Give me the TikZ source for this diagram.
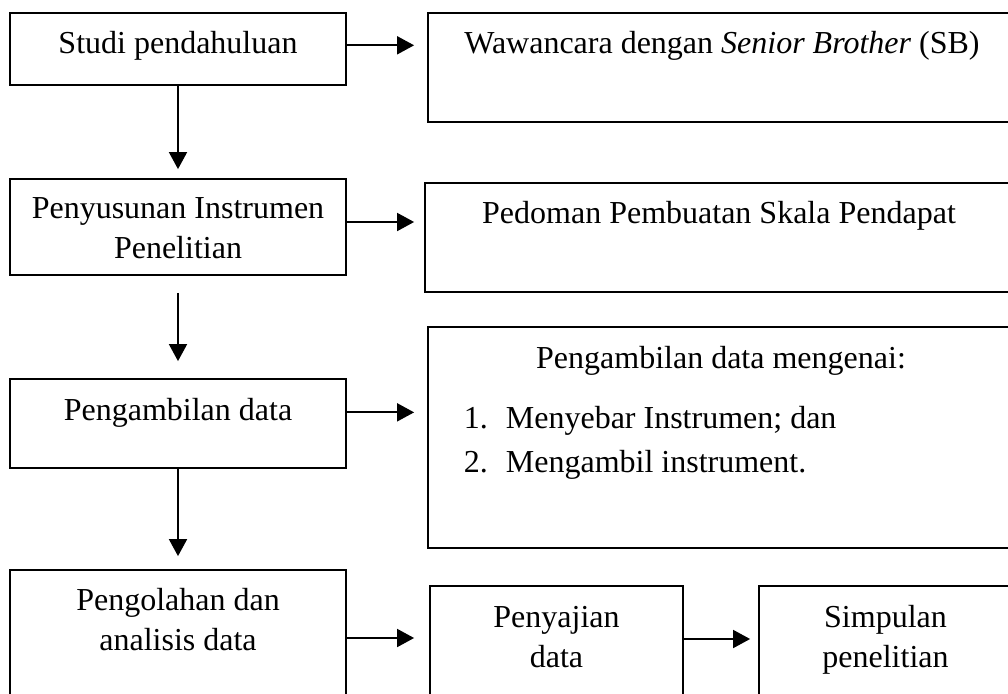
\documentclass[tikz,border=0pt]{standalone}
\usepackage{fontspec}
\setmainfont{Liberation Serif}
\usetikzlibrary{arrows.meta,positioning}

\tikzset{
  stage/.style={draw, line width=1.8pt, inner sep=0pt},
  txt/.style={font=\fontsize{32}{40}\selectfont, align=center, inner sep=0pt, anchor=base},
  >={Triangle[length=17pt,width=18pt]},
}

\begin{document}
\begin{tikzpicture}[x=1pt,y=-1pt,line width=1.8pt]
        \useasboundingbox (0,0) rectangle (1008,693);
        \clip (0,0) rectangle (1008,693);
        \path
        % left
        (178,49) node[stage, minimum width=336pt, minimum height=72pt](studi) {}
        (178,227) node[stage, minimum width=336pt, minimum height=96pt](penyusunan) {}
        (178,423.5) node[stage, minimum width=336pt, minimum height=89pt](pengambilan) {}
        (178,650) node[stage, minimum width=336pt, minimum height=160pt](pengolahan) {}

        (178,53) node[txt](studiTxt) {Studi pendahuluan}
        (178,258) node[txt](penyusunanTxt) {Penyusunan Instrumen\\Penelitian}
        (178,420) node[txt](pengambilanTxt) {Pengambilan data}
        (178,650) node[txt](pengolahanTxt) {Pengolahan dan\\analisis data}

        % right
        (720,67.5) node[stage, minimum width=584pt, minimum height=109pt](wawancara) {}
        (718.5,237.5) node[stage, minimum width=587pt, minimum height=109pt](pedoman) {}
        (720,437.5) node[stage, minimum width=584pt, minimum height=221pt](mengenai) {}

        (722,53) node[txt](wawancaraTxt) {Wawancara dengan \textit{Senior Brother} (SB)}
        (719,223) node[txt](pedomanTxt) {Pedoman Pembuatan Skala Pendapat}
        (721,368) node[txt](mengenaiTxt) {Pengambilan data mengenai:}
        (463,472) node[txt, anchor=base west, align=left](daftarTxt)
          {\makebox[42pt][l]{1.}Menyebar Instrumen; dan\\[4pt]\makebox[42pt][l]{2.}Mengambil instrument.}

        % bottom
        (556.5,658) node[stage, minimum width=253pt, minimum height=144pt](penyajian) {}
        (885.5,658) node[stage, minimum width=253pt, minimum height=144pt](simpulan) {}

        (556.5,667) node[txt](penyajianTxt) {Penyajian\\data}
        (885.5,667) node[txt](simpulanTxt) {Simpulan\\penelitian}
        ;

        \draw[->, shorten >=9pt] (studi) -- (penyusunan);
        \draw[->, shorten <=17pt, shorten >=17pt] (penyusunan) -- (pengambilan);
        \draw[->, shorten >=13pt] (pengambilan) -- (pengolahan);

        \draw[->, shorten >=13pt] (studi.east |- studiTxt) -- (wawancara.west |- studiTxt);
        \draw[->, shorten >=10pt] ([yshift=5pt]penyusunan.east) -- ([yshift=5pt]penyusunan.east -| pedoman.west);
        \draw[->, shorten >=13pt] (pengambilan.east |- pengambilanTxt) -- (mengenai.west |- pengambilanTxt);
        \draw[->, shorten >=15pt] ([yshift=12pt]pengolahan.east) -- ([yshift=12pt]pengolahan.east -| penyajian.west);
        \draw[->, shorten >=8pt] ([yshift=19pt]penyajian.east) -- ([yshift=19pt]penyajian.east -| simpulan.west);
      \end{tikzpicture}
\end{document}
